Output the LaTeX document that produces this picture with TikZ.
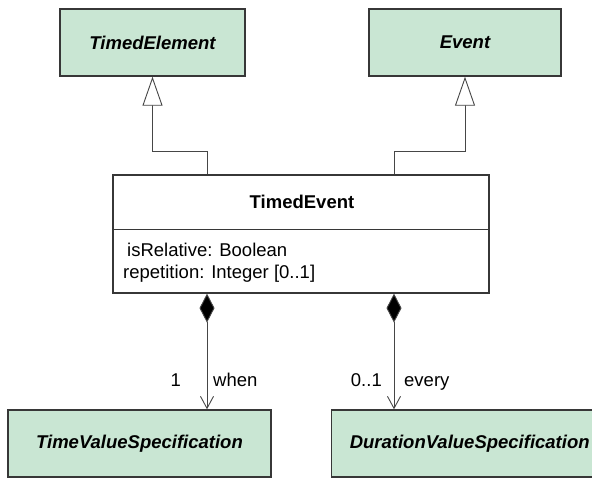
\documentclass[tikz,border=0pt]{standalone}
\usepackage{fontspec}
\setmainfont{Liberation Sans}
\usetikzlibrary{arrows.meta}
\definecolor{clsgreen}{RGB}{201,230,211}
\definecolor{edge}{RGB}{55,55,55}
\definecolor{conn}{RGB}{70,70,70}
\begin{document}
\begin{tikzpicture}[x=1pt,y=-1pt,
  every node/.style={font=\fontsize{18.5}{22}\selectfont},
  classbox/.style={draw=edge,line width=1.4pt,fill=clsgreen,minimum height=67pt,inner sep=0pt,
    font=\fontsize{18.5}{22}\selectfont\bfseries\itshape},
  mainbox/.style={draw=edge,line width=1.2pt,fill=white,inner sep=0pt},
  gen/.style={draw=conn,line width=0.9pt,-{Triangle[open,length=29pt,width=20pt,fill=white]}},
  comp/.style={draw=conn,line width=0.9pt,{Diamond[length=29pt,width=15pt,fill=black]}-{Straight Barb[length=12pt,width=13pt]}},
  lbl/.style={inner sep=0pt,font=\fontsize{18.5}{22}\selectfont}
]
\useasboundingbox (0,0) rectangle (592,480);
\clip (0,0) rectangle (592,480);

\node[classbox,minimum width=185pt] (tel) at (152.5,42.5) {TimedElement};
\node[classbox,minimum width=192pt] (ev) at (465,42.5) {Event};

\node[mainbox,minimum width=376pt,minimum height=118pt] (te) at (301,234) {};
\node[inner sep=0pt,anchor=base,font=\fontsize{18.5}{22}\selectfont\bfseries] (tetitle) at (302,208.5) {TimedEvent};
\draw[edge,line width=1pt] (te.west |- 0,229) -- (te.east |- 0,229);
\node[lbl,anchor=base west] (a1) at (127,256) {isRelative: Boolean};
\node[lbl,anchor=base west] (a2) at (123,278.5) {repetition: Integer [0..1]};

\node[classbox,minimum width=263pt] (tvs) at (139.5,443.5) {TimeValueSpecification};
\node[classbox,minimum width=286pt,anchor=west] (dvs) at (331,443.5) {\hspace*{-10pt}DurationValueSpecification};

\draw[gen] ([xshift=-94pt]te.north) -- ([xshift=-94pt]te.north |- 0,151) -| (tel.south);
\draw[gen] ([xshift=93pt]te.north) -- ([xshift=93pt]te.north |- 0,151) -| (ev.south);

\draw[comp] ([xshift=-94pt]te.south) -- ([xshift=-94pt]te.south |- tvs.north);
\draw[comp] ([xshift=93pt]te.south) -- ([xshift=93pt]te.south |- dvs.north);

\node[lbl,anchor=base east] (m1) at (181,386.5) {1};
\node[lbl,anchor=base west] (r1) at (213,386.5) {when};
\node[lbl,anchor=base east] (m2) at (382,386.5) {0..1};
\node[lbl,anchor=base west] (r2) at (404,386.5) {every};
\end{tikzpicture}
\end{document}
